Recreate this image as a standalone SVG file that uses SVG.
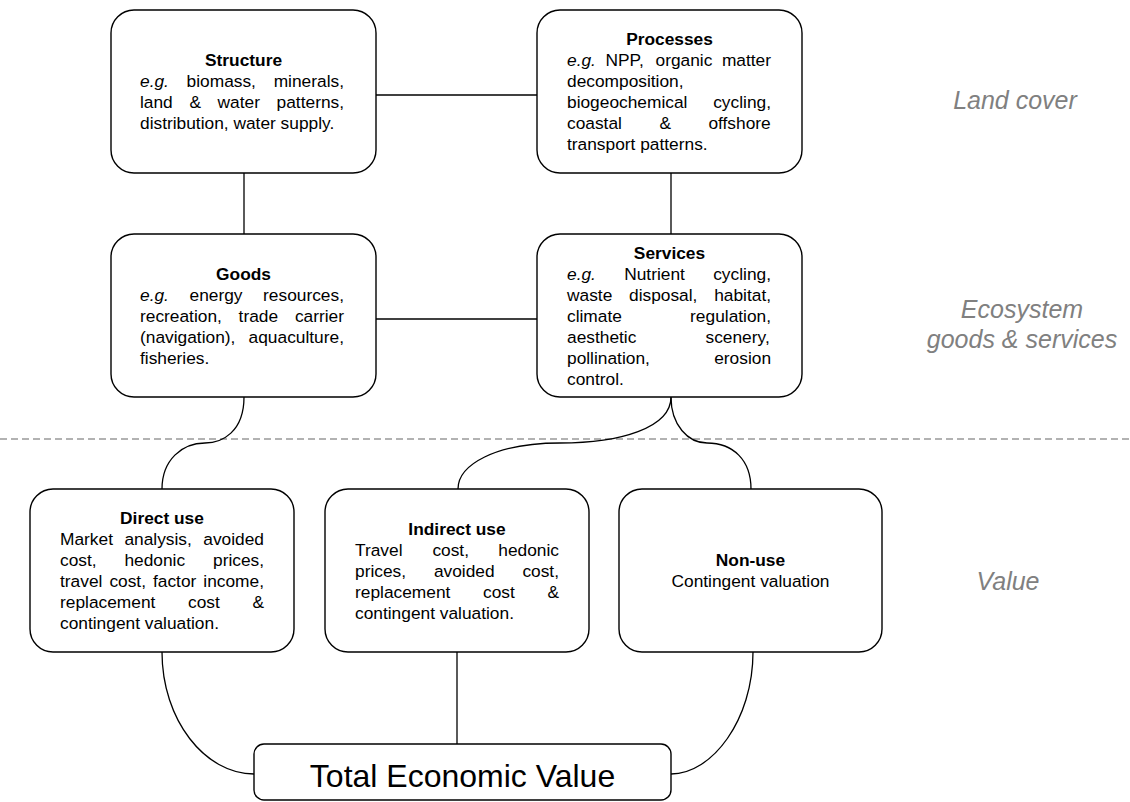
<svg xmlns="http://www.w3.org/2000/svg" width="1130" height="802" viewBox="0 0 1130 802">
  <style>
    .box { fill: #fff; stroke: #000; stroke-width: 1.4; }
    .conn { fill: none; stroke: #000; stroke-width: 1.3; }
    .divider { fill: none; stroke: #999; stroke-width: 1.3; stroke-dasharray: 7 4; }
    text { font-family: "Liberation Sans", Arial, sans-serif; fill: #000; }
    .t { font-size: 17.33px; }
    .h { font-size: 17.33px; font-weight: bold; text-anchor: middle; }
    .i { font-style: italic; }
    .side { font-size: 25px; font-style: italic; fill: #808080; text-anchor: middle; }
    .tev { font-size: 32px; text-anchor: middle; }
  </style>

  <!-- section divider -->
  <path class="divider" d="M0,439 H1130"/>

  <!-- side labels -->
  <g id="layer-labels">
    <text class="side" x="1015" y="109">Land cover</text>
    <text class="side" x="1022" y="318">Ecosystem</text>
    <text class="side" x="1022" y="348">goods &amp; services</text>
    <text class="side" x="1008" y="590">Value</text>
  </g>

  <!-- connectors -->
  <g id="connectors">
    <path class="conn" d="M376,95 H537"/>
    <path class="conn" d="M376,319 H537"/>
    <path class="conn" d="M244,173 V234"/>
    <path class="conn" d="M671,173 V234"/>
    <path class="conn" d="M244,397 C244,432 222,443 205,443 C182,443 162,460 162,489"/>
    <path class="conn" d="M671,397 C671,428 620,443 560,443 C495,443 458,465 458,489"/>
    <path class="conn" d="M671,397 C671,425 688,443 707,443 C733,443 751,460 751,489"/>
    <path class="conn" d="M162,652 C162,720 205,774 254,774"/>
    <path class="conn" d="M457,652 V744"/>
    <path class="conn" d="M753,652 C753,720 712,774 671,774"/>
  </g>

  <g id="structure">
    <rect class="box" x="111" y="10" width="265" height="163" rx="23"/>
    <text class="h" x="243.5" y="66">Structure</text>
    <text class="t" y="87"><tspan class="i" x="140">e.g.</tspan><tspan x="186.6">biomass,</tspan><tspan x="273.7">minerals,</tspan></text>
    <text class="t" y="108"><tspan x="140">land</tspan><tspan x="189.4">&amp;</tspan><tspan x="217.6">water</tspan><tspan x="276.6">patterns,</tspan></text>
    <text class="t" x="140" y="129">distribution, water supply.</text>
  </g>

  <g id="processes">
    <rect class="box" x="537" y="10" width="265" height="163" rx="23"/>
    <text class="h" x="669.5" y="45">Processes</text>
    <text class="t" y="66"><tspan class="i" x="567">e.g.</tspan><tspan x="605.5">NPP,</tspan><tspan x="655.5">organic</tspan><tspan x="721.9">matter</tspan></text>
    <text class="t" x="567" y="87">decomposition,</text>
    <text class="t" y="108"><tspan x="567">biogeochemical</tspan><tspan x="713.2">cycling,</tspan></text>
    <text class="t" y="129"><tspan x="567">coastal</tspan><tspan x="659.4">&amp;</tspan><tspan x="708.4">offshore</tspan></text>
    <text class="t" x="567" y="150">transport patterns.</text>
  </g>

  <g id="goods">
    <rect class="box" x="111" y="234" width="265" height="163" rx="23"/>
    <text class="h" x="243.5" y="279.5">Goods</text>
    <text class="t" y="300.5"><tspan class="i" x="140">e.g.</tspan><tspan x="189.5">energy</tspan><tspan x="263.1">resources,</tspan></text>
    <text class="t" y="321.5"><tspan x="140">recreation,</tspan><tspan x="238.6">trade</tspan><tspan x="294.9">carrier</tspan></text>
    <text class="t" y="342.5"><tspan x="140">(navigation),</tspan><tspan x="248.6">aquaculture,</tspan></text>
    <text class="t" x="140" y="363.5">fisheries.</text>
  </g>

  <g id="services">
    <rect class="box" x="537" y="234" width="265" height="163" rx="23"/>
    <text class="h" x="669.5" y="258.5">Services</text>
    <text class="t" y="279.5"><tspan class="i" x="567">e.g.</tspan><tspan x="624.2">Nutrient</tspan><tspan x="713.2">cycling,</tspan></text>
    <text class="t" y="300.5"><tspan x="567">waste</tspan><tspan x="629">disposal,</tspan><tspan x="714.2">habitat,</tspan></text>
    <text class="t" y="321.5"><tspan x="567">climate</tspan><tspan x="690.1">regulation,</tspan></text>
    <text class="t" y="342.5"><tspan x="567">aesthetic</tspan><tspan x="705.5">scenery,</tspan></text>
    <text class="t" y="363.5"><tspan x="567">pollination,</tspan><tspan x="714.2">erosion</tspan></text>
    <text class="t" x="567" y="384.5">control.</text>
  </g>

  <g id="direct-use">
    <rect class="box" x="30" y="489" width="264" height="163" rx="23"/>
    <text class="h" x="162" y="524">Direct use</text>
    <text class="t" y="545"><tspan x="60">Market</tspan><tspan x="124.4">analysis,</tspan><tspan x="203.3">avoided</tspan></text>
    <text class="t" y="566"><tspan x="60">cost,</tspan><tspan x="124.4">hedonic</tspan><tspan x="213">prices,</tspan></text>
    <text class="t" y="587"><tspan x="60">travel</tspan><tspan x="109.4">cost,</tspan><tspan x="153">factor</tspan><tspan x="203.3">income,</tspan></text>
    <text class="t" y="608"><tspan x="60">replacement</tspan><tspan x="188">cost</tspan><tspan x="252.4">&amp;</tspan></text>
    <text class="t" x="60" y="629">contingent valuation.</text>
  </g>

  <g id="indirect-use">
    <rect class="box" x="325" y="489" width="264" height="163" rx="23"/>
    <text class="h" x="457" y="534.5">Indirect use</text>
    <text class="t" y="555.5"><tspan x="355">Travel</tspan><tspan x="432.4">cost,</tspan><tspan x="498.3">hedonic</tspan></text>
    <text class="t" y="576.5"><tspan x="355">prices,</tspan><tspan x="433.9">avoided</tspan><tspan x="522.4">cost,</tspan></text>
    <text class="t" y="597.5"><tspan x="355">replacement</tspan><tspan x="483">cost</tspan><tspan x="547.4">&amp;</tspan></text>
    <text class="t" x="355" y="618.5">contingent valuation.</text>
  </g>

  <g id="non-use">
    <rect class="box" x="619" y="489" width="263" height="163" rx="23"/>
    <text class="h" x="750.5" y="566">Non-use</text>
    <text class="t" x="750.5" y="587" text-anchor="middle">Contingent valuation</text>
  </g>

  <g id="total-economic-value">
    <rect class="box" x="254" y="744" width="417" height="56" rx="10"/>
    <text class="tev" x="462.5" y="787">Total Economic Value</text>
  </g>
</svg>
